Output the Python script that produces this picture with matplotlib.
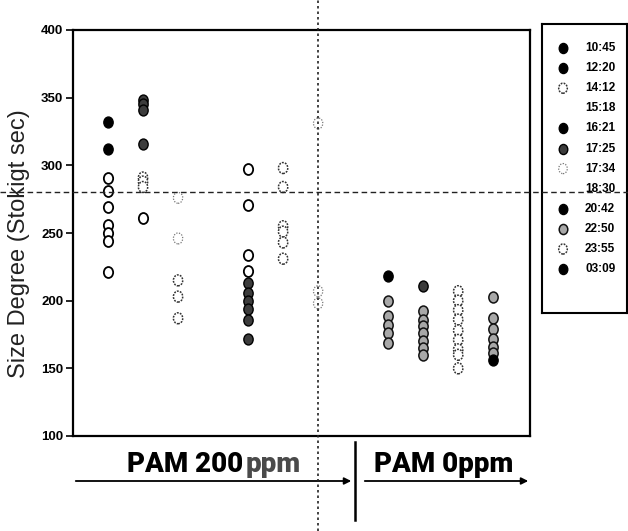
import matplotlib
matplotlib.use("Agg")
import matplotlib.pyplot as plt
from matplotlib.path import Path
from matplotlib.transforms import Affine2D
from matplotlib.lines import Line2D
from matplotlib.patches import FancyArrowPatch

# ---- data -------------------------------------------------------------
times = ["10:45", "12:20", "14:12", "15:18", "16:21", "17:25",
         "17:34", "18:30", "20:42", "22:50", "23:55", "03:09"]

v1045 = [332, 312, 291, 281, 269, 256, 250, 244, 221]
v1220 = [348, 345, 341, 316, 291, 288, 284, 261]
v1412 = [276, 246, 215, 203, 187]
v1518 = []
v1621 = [297, 271, 234, 222, 213, 206, 200, 194, 186, 172]
v1725 = [298, 284, 255, 251, 243, 231]
v1734 = [331, 207, 198]
v1830 = []
v2042 = [218, 200, 189, 182, 176, 169]
v2250 = [211, 192, 186, 181, 176, 170, 165, 160]
v2355 = [207, 200, 193, 186, 178, 171, 164, 160, 150]
v0309 = [203, 187, 179, 172, 166, 161, 156]

series_values = [v1045, v1220, v1412, v1518, v1621, v1725,
                 v1734, v1830, v2042, v2250, v2355, v0309]

yticks = [100, 150, 200, 250, 300, 350, 400]
reference_level = 280

# ---- styles -----------------------------------------------------------
STYLES = {
    "solid": dict(facecolor="black", edgecolor="black", linewidth=1.0),
    "dark": dict(facecolor="#3c3c3c", edgecolor="black", linewidth=1.0),
    "mid": dict(facecolor="#a8a8a8", edgecolor="#111111", linewidth=1.1),
    "open": dict(facecolor="white", edgecolor="black", linewidth=1.3),
    "dotted": dict(facecolor="white", edgecolor="#333333", linewidth=1.1, linestyle=(0, (1.2, 0.8))),
    "faint": dict(facecolor="white", edgecolor="#777777", linewidth=0.9, linestyle=(0, (1, 1.2))),
    "none": None,
}

# shading of the points in each column, top to bottom: (style, count)
point_shades = [
    [("solid", 2), ("open", 7)],
    [("dark", 4), ("dotted", 3), ("open", 1)],
    [("faint", 2), ("dotted", 3)],
    [],
    [("open", 4), ("dark", 6)],
    [("dotted", 6)],
    [("faint", 3)],
    [],
    [("solid", 1), ("mid", 5)],
    [("dark", 1), ("mid", 7)],
    [("dotted", 9)],
    [("mid", 6), ("solid", 1)],
]
legend_shades = ["solid", "solid", "dotted", "none", "solid", "dark",
                 "faint", "none", "solid", "mid", "dotted", "solid"]

# slightly tall oval marker
oval = Path.unit_circle().transformed(Affine2D().scale(0.85, 1.0))
MS = 62

W, H = 628, 531
fig = plt.figure(figsize=(W / 100, H / 100), dpi=100)


def fx(px):
    return px / W


def fy(py):
    return 1 - py / H


ax = fig.add_axes([fx(73), fy(436), fx(530) - fx(73), fy(30) - fy(436)])
ax.set_zorder(2)
ax.set_xlim(0, 13.05)
ax.set_ylim(100, 400)

for i, (vals, plan) in enumerate(zip(series_values, point_shades)):
    pos = 0
    for style, n in plan:
        chunk = vals[pos:pos + n]
        pos += n
        ax.scatter([i + 1] * len(chunk), chunk, marker=oval, s=MS,
                   zorder=3, clip_on=False, **STYLES[style])

for side in ["left", "right", "top", "bottom"]:
    ax.spines[side].set_linewidth(1.6)
    ax.spines[side].set_color("black")

ax.set_xticks([])
ax.set_yticks(yticks)
ax.set_yticklabels([str(t) for t in yticks],
                   fontfamily=["Liberation Sans Narrow", "Liberation Sans"],
                   fontsize=9.5, fontweight="bold")
ax.tick_params(axis="y", direction="out", length=5, width=1.2, pad=2)
ax.set_ylabel("Size Degree (Stokigt sec)", fontfamily="Liberation Sans",
              fontsize=17, color="#222222")
ax.yaxis.set_label_coords(-43 / 457, 0.475)

# reference lines, running past the plot frame
ax.axhline(reference_level, xmin=-73 / 457, xmax=(628 - 73) / 457,
           color="#222222", lw=1.0, ls=(0, (4, 2.5)), clip_on=False, zorder=5)
ax.axvline(7, ymin=(436 - 531) / 406, ymax=(436 - 0) / 406,
           color="#222222", lw=1.2, ls=(0, (1.5, 1.8)), clip_on=False, zorder=5)

# ---- legend box -------------------------------------------------------
lg = fig.add_axes([fx(542), fy(313), fx(627) - fx(542), fy(24) - fy(313)])
lg.set_zorder(0)
lg.set_xlim(0, 85)
lg.set_ylim(289, 0)
lg.set_xticks([])
lg.set_yticks([])
for side in lg.spines.values():
    side.set_linewidth(1.5)
for k, (lab, style) in enumerate(zip(times, legend_shades)):
    yy = 24 + 20.1 * k
    if STYLES[style] is not None:
        lg.scatter([21], [yy], marker=oval, s=MS * 0.85, **STYLES[style])
    lg.text(43, yy, lab, fontsize=8.5, fontweight="bold",
            fontfamily=["Liberation Sans Narrow", "Liberation Sans"],
            va="center", ha="left")

# ---- group annotations under the plot --------------------------------
heavy = dict(fontfamily=["Roboto", "DejaVu Sans"], fontweight="black",
             fontsize=20, va="baseline")
fig.text(fx(127), fy(472), "PAM 200", ha="left", **heavy)
fig.text(fx(246), fy(472), "ppm", ha="left", color="#4a4a4a", **heavy)
fig.text(fx(444), fy(472), "PAM 0ppm", ha="center", **heavy)

fig.add_artist(FancyArrowPatch((fx(73), fy(481)), (fx(354), fy(481)),
                               transform=fig.transFigure, arrowstyle="-|>",
                               mutation_scale=10, lw=1.3, color="black"))
fig.add_artist(FancyArrowPatch((fx(362), fy(481)), (fx(531), fy(481)),
                               transform=fig.transFigure, arrowstyle="-|>",
                               mutation_scale=10, lw=1.3, color="black"))
fig.add_artist(Line2D([fx(355), fx(355)], [fy(442), fy(520)],
                      transform=fig.transFigure, lw=1.8, color="black"))

fig.savefig("out.png", dpi=100)
